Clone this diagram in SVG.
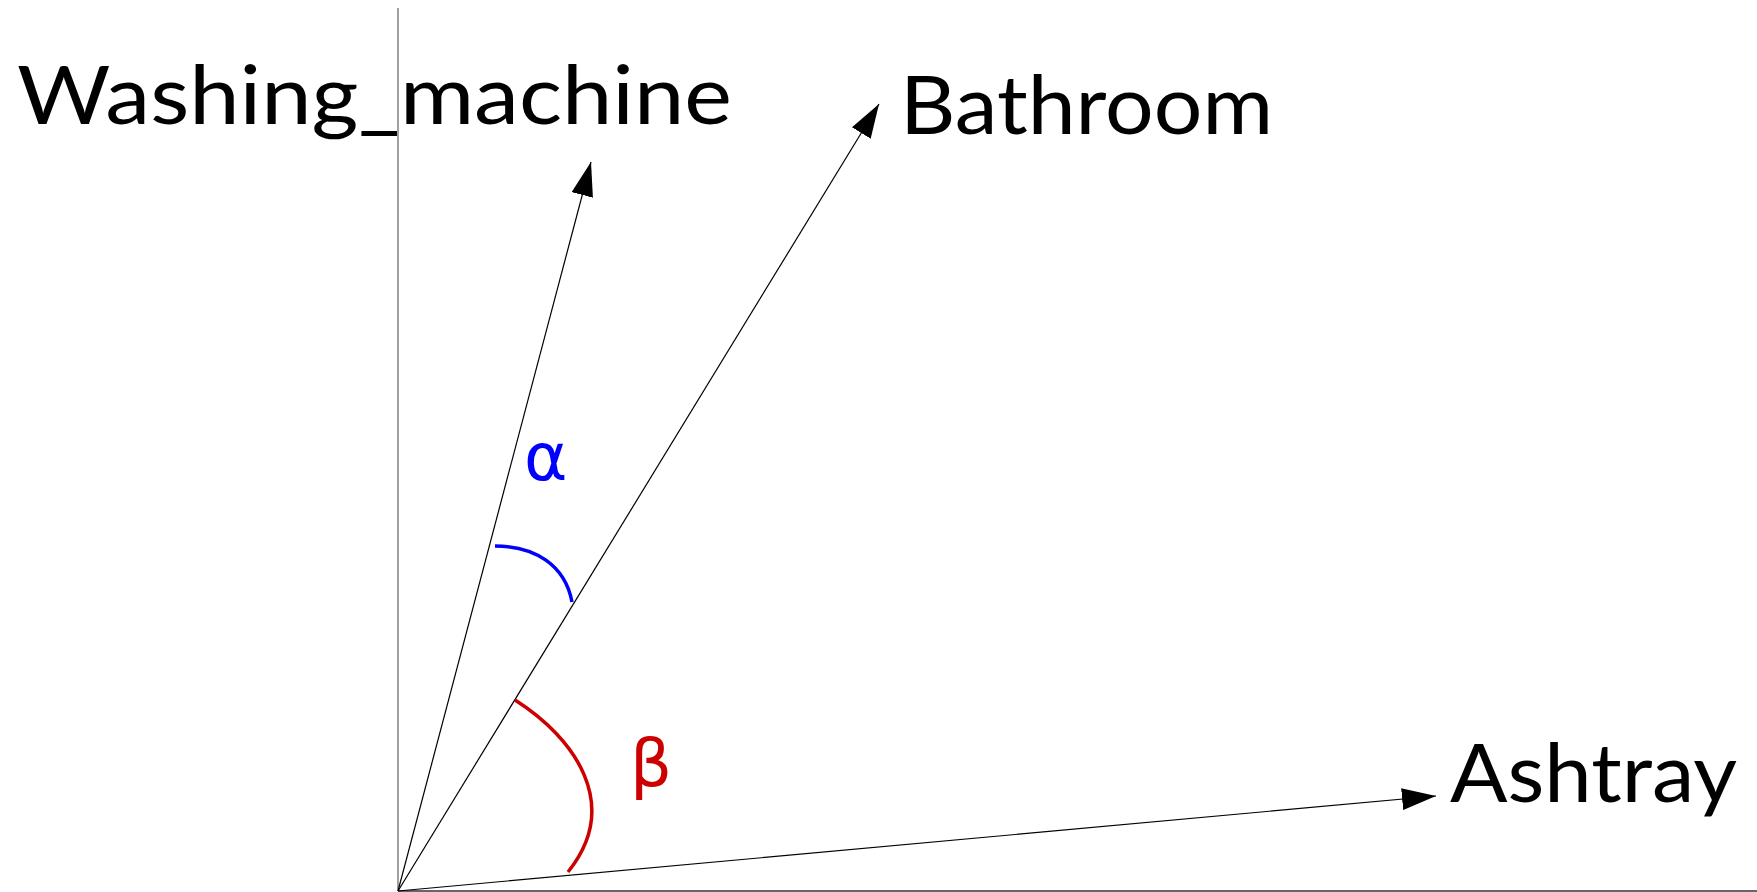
<svg xmlns="http://www.w3.org/2000/svg" width="1757" height="892" viewBox="0 0 1757 892">
<style>
.lbl{font-family:Lato,"Liberation Sans",sans-serif;font-size:82px;font-weight:400;fill:#000}
.ax{stroke:#808080;stroke-width:1.5;fill:none}
.vec{stroke:#000;stroke-width:1.2;fill:none}
.greek{font-family:"DejaVu Sans",sans-serif;font-size:66px}
</style>
<defs>
<marker id="ah" markerUnits="userSpaceOnUse" markerWidth="34" markerHeight="22" refX="34" refY="11" orient="auto">
<path d="M0,0 L34,11 L0,22 z" fill="#000"/>
</marker>
</defs>
<rect width="1757" height="892" fill="#fff"/>
<g id="axes">
<line class="ax" x1="398" y1="8" x2="398" y2="891"/>
<line class="ax" x1="398" y1="891" x2="1757" y2="891" style="stroke:#333"/>
</g>
<g id="connectors">
<line class="vec" x1="398" y1="891" x2="591" y2="162" marker-end="url(#ah)"/>
<line class="vec" x1="398" y1="891" x2="879" y2="104" marker-end="url(#ah)"/>
<line class="vec" x1="398" y1="891" x2="1436" y2="796" marker-end="url(#ah)"/>
</g>
<g id="washing_machine">
<text class="lbl" x="17" y="124" textLength="715" lengthAdjust="spacingAndGlyphs">Washing_machine</text>
</g>
<g id="bathroom">
<text class="lbl" x="900" y="134" textLength="373" lengthAdjust="spacingAndGlyphs">Bathroom</text>
</g>
<g id="ashtray">
<text class="lbl" x="1450" y="802" textLength="287" lengthAdjust="spacingAndGlyphs">Ashtray</text>
</g>
<g id="alpha">
<path d="M495,546 C535,546 565,565 572,602" fill="none" stroke="#0000ff" stroke-width="3.5"/>
<text class="greek" x="524" y="480" fill="#0000ff">α</text>
</g>
<g id="beta">
<path d="M515,700 C575,738 622,805 568,872" fill="none" stroke="#cc0000" stroke-width="3.5"/>
<text class="greek" x="630" y="786" fill="#cc0000">β</text>
</g>
</svg>
